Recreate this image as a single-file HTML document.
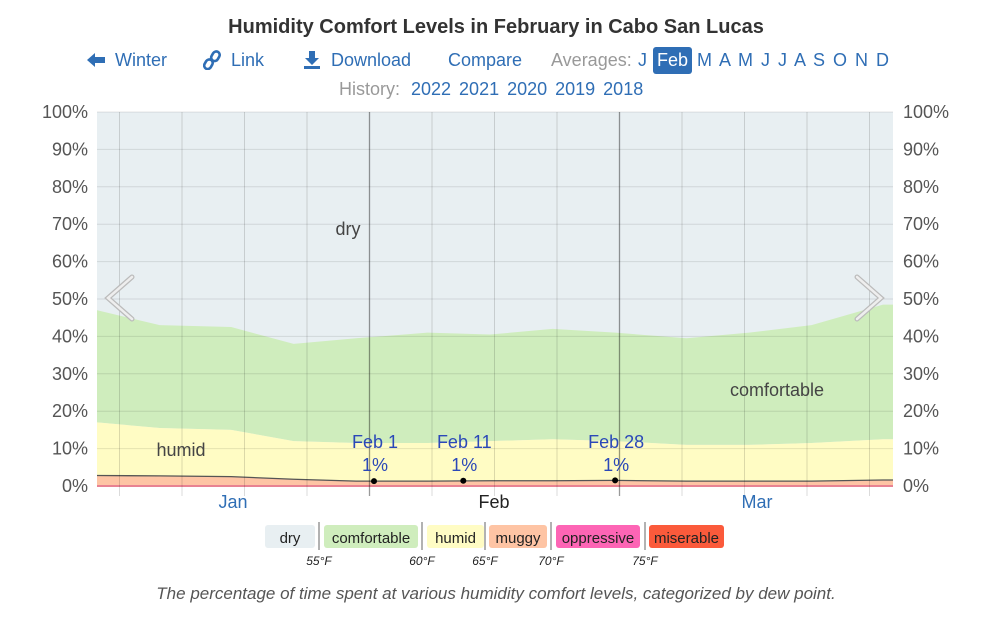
<!DOCTYPE html>
<html><head><meta charset="utf-8"><style>
body{margin:0;width:992px;height:627px;background:#fff;font-family:"Liberation Sans",sans-serif;position:relative;overflow:hidden}
.a{position:absolute;white-space:nowrap}
.nav{font-size:18px;color:#2f6eb5;top:50px}
.gray{color:#999}
</style></head><body>
<div class="a" style="left:0;width:992px;text-align:center;top:16px;font-size:20px;font-weight:bold;color:#333">Humidity Comfort Levels in February in Cabo San Lucas</div>
<svg class="a" style="left:86px;top:52px" width="20" height="16"><path d="M1,8 L9,1 L9,5 L19,5 L19,11 L9,11 L9,15 Z" fill="#2f6eb5"/></svg>
<div class="a nav" style="left:115px">Winter</div>
<svg class="a" style="left:203px;top:50px" width="18" height="20"><g fill="none" stroke="#2f6eb5" stroke-width="2.6"><rect x="2" y="9" width="7" height="10" rx="3.5" transform="rotate(30 5 14)"/><rect x="9" y="1" width="7" height="10" rx="3.5" transform="rotate(30 12 6)"/></g></svg>
<div class="a nav" style="left:231px">Link</div>
<svg class="a" style="left:303px;top:50px" width="18" height="20"><path d="M6,1 H12 V8 H16 L9,15 L2,8 H6 Z" fill="#2f6eb5"/><rect x="1" y="16" width="16" height="3" fill="#2f6eb5"/></svg>
<div class="a nav" style="left:331px">Download</div>
<div class="a nav" style="left:448px">Compare</div>
<div class="a nav gray" style="left:551px">Averages:</div>
<div class="a nav" style="left:638px">J</div>
<div class="a nav" style="left:653px;top:47px;width:39px;height:27px;background:#2f6eb5;color:#fff;border-radius:3px;text-align:center;line-height:27px">Feb</div>
<div class="a nav" style="left:697px;word-spacing:3px">M A M J J A S O N D</div>
<div class="a nav gray" style="left:339px;top:79px">History:</div>
<div class="a nav" style="left:411px;top:79px;word-spacing:3px">2022 2021 2020 2019 2018</div>

<svg class="a" style="left:0;top:0" width="992" height="627" id="chart"></svg>

<div class="a" style="left:0;width:992px;text-align:center;top:584px;font-size:17px;font-style:italic;color:#555">The percentage of time spent at various humidity comfort levels, categorized by dew point.</div>

<script>
const days=[0,7,15,22,29,37,44,51,58,66,73,80,88];
const muggy=[2.8,2.7,2.5,1.8,1.3,1.3,1.4,1.4,1.5,1.3,1.3,1.3,1.6];
const humid=[14.2,12.8,12.5,10.2,10.2,10.2,10.6,11.1,10.5,9.7,9.7,10.2,10.9];
const comfortable=[30,27.5,27.5,26,28,29.5,28.5,29.5,29,28.5,30,31.5,36];
const yTicks=[0,10,20,30,40,50,60,70,80,90,100];
const annDays=[31,41,58];
const annLabels=["Feb 1","Feb 11","Feb 28"];
const annValues=["1%","1%","1%"];
const legendNames=["dry","comfortable","humid","muggy","oppressive","miserable"];
const legendTemps=["55°F","60°F","65°F","70°F","75°F"];

const svg=document.getElementById('chart');const NS='http://www.w3.org/2000/svg';
const X0=97,X1=893,Y0=486,Y1=112;
const x=d=>374+(d-31)*8.93;
const y=v=>Y0-(v/100)*(Y0-Y1);
function el(t,a,p){const e=document.createElementNS(NS,t);for(const k in a)e.setAttribute(k,a[k]);(p||svg).appendChild(e);return e;}
el('rect',{x:X0,y:Y1,width:X1-X0,height:Y0-Y1,fill:'#e8eff2'});
const cMug=muggy,cHum=muggy.map((m,i)=>m+humid[i]),cCom=cHum.map((h,i)=>h+comfortable[i]);
function linePts(top){let pts=days.map((d,i)=>[Math.min(Math.max(x(d),X0),X1),y(top[i])]);pts.unshift([X0,y(top[0])]);pts.push([X1,y(top[top.length-1])]);return pts;}
function area(top,bot,fill,name){
 const pts=linePts(top);
 let b=bot?linePts(bot):[[X0,Y0],[X1,Y0]];
 const p=el('path',{d:'M'+pts.map(q=>q.join(',')).join('L')+'L'+b.reverse().map(q=>q.join(',')).join('L')+'Z',fill:fill});
 
}
area(cCom,cHum,'#cfedbd','comfortable-area');
area(cHum,cMug,'#fffcc4','humid-area');
area(cMug,null,'#fec4a4','muggy-area');
el('line',{x1:X0,x2:X1,y1:Y0,y2:Y0,stroke:'#f58a9a','stroke-width':2});
{const pts=linePts(cMug);
const l=el('path',{d:'M'+pts.map(q=>q.join(',')).join('L'),fill:'none',stroke:'#555','stroke-width':1.3});}
yTicks.forEach(t=>{el('line',{x1:X0,x2:X1,y1:y(t),y2:y(t),stroke:'rgba(0,0,0,0.1)'});
 const a=el('text',{x:88,y:y(t)+6,'text-anchor':'end','font-size':18,fill:'#555'});a.textContent=t+'%';
 const b=el('text',{x:903,y:y(t)+6,'font-size':18,fill:'#555'});b.textContent=t+'%';});
for(let gx=119.5;gx<X1;gx+=62.5){const dark=Math.abs(gx-369)<3||Math.abs(gx-619)<3;
 el('line',{x1:gx,x2:gx,y1:Y1,y2:Y0+10,stroke:dark?'rgba(0,0,0,0.4)':'rgba(0,0,0,0.14)','stroke-width':dark?1.3:1});}
[['dry',348,235],['humid',181,456],['comfortable',777,396]].forEach(r=>{const t=el('text',{x:r[1],y:r[2],'text-anchor':'middle','font-size':18,fill:'#444'});t.textContent=r[0];});
annDays.forEach((d,i)=>{const cx=x(d);let mi=days.findIndex(q=>q>=d);if(mi<0)mi=days.length-1;const mv=cMug[mi];
 const c=el('circle',{cx:cx,cy:y(mv),r:3,fill:'#000'});
 const t1=el('text',{x:cx+1,y:448,'text-anchor':'middle','font-size':18,fill:'#2b48b8'});t1.textContent=annLabels[i];
 const t2=el('text',{x:cx+1,y:471,'text-anchor':'middle','font-size':18,fill:'#2b48b8'});t2.textContent=annValues[i];});
[['Jan',233,'#2f6eb5'],['Feb',494,'#222'],['Mar',757,'#2f6eb5']].forEach(m=>{const t=el('text',{x:m[1],y:508,'text-anchor':'middle','font-size':18,fill:m[2]});t.textContent=m[0];});
[[132,108],[857,881]].forEach((c,i)=>{const p=el('path',{d:`M${c[0]},277 L${c[1]},298 L${c[0]},319`,fill:'none',stroke:'#bbb','stroke-width':5,'stroke-linecap':'round'});el('path',{d:`M${c[0]},277 L${c[1]},298 L${c[0]},319`,fill:'none',stroke:'#eee','stroke-width':2.5,'stroke-linecap':'round'});});
const lb=[[265,315,'#e8eff2'],[324,418,'#cfedbd'],[427,484,'#fffcc4'],[489,547,'#fec4a4'],[556,640,'#fd65b5'],[649,724,'#fb5a3b']];
legendNames.forEach((n,i)=>{const b=lb[i];const r=el('rect',{x:b[0],y:525,width:b[1]-b[0],height:23,rx:3,fill:b[2]});
 const t=el('text',{x:(b[0]+b[1])/2,y:543,'text-anchor':'middle','font-size':15,fill:'#222'});t.textContent=n;});
const sx=[319,422,485,551,645];
legendTemps.forEach((tp,i)=>{el('line',{x1:sx[i],x2:sx[i],y1:522,y2:550,stroke:'#666'});
 const t=el('text',{x:sx[i],y:565,'text-anchor':'middle','font-size':12,'font-style':'italic',fill:'#222'});t.textContent=tp;});
</script>
</body></html>
